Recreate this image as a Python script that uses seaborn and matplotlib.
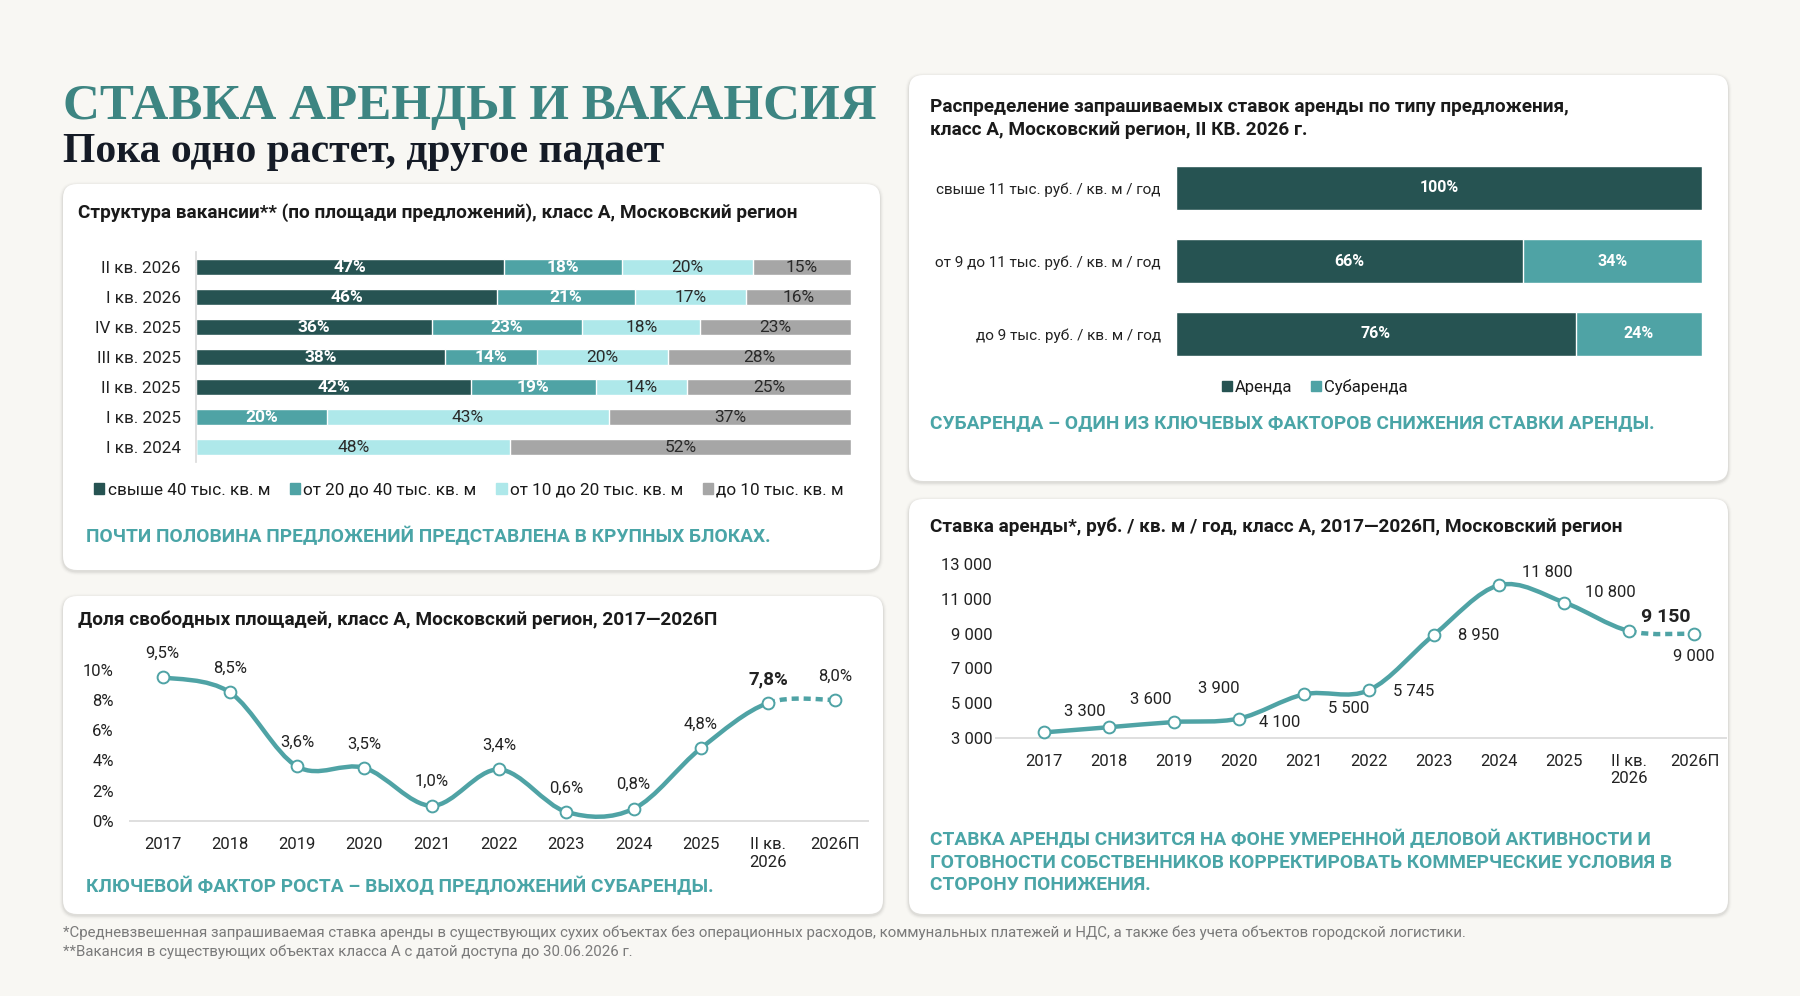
import numpy as np
import pandas as pd
import seaborn as sns
import matplotlib.pyplot as plt
from matplotlib.patches import FancyBboxPatch, Patch, PathPatch
from matplotlib.path import Path

# --- data ---
struct_periods = ["II кв. 2026", "I кв. 2026", "IV кв. 2025", "III кв. 2025",
                  "II кв. 2025", "I кв. 2025", "I кв. 2024"]
struct_big = [47, 46, 36, 38, 42, 0, 0]
struct_mid = [18, 21, 23, 14, 19, 20, 0]
struct_small = [20, 17, 18, 20, 14, 43, 48]
struct_tiny = [15, 16, 23, 28, 25, 37, 52]
struct_names = ["свыше 40 тыс. кв. м", "от 20 до 40 тыс. кв. м",
                "от 10 до 20 тыс. кв. м", "до 10 тыс. кв. м"]

years = ["2017", "2018", "2019", "2020", "2021", "2022", "2023", "2024",
         "2025", "II кв.\n2026", "2026П"]
vacancy = [9.5, 8.5, 3.6, 3.5, 1.0, 3.4, 0.6, 0.8, 4.8, 7.8, 8.0]
vacancy_labels = ["9,5%", "8,5%", "3,6%", "3,5%", "1,0%", "3,4%", "0,6%",
                  "0,8%", "4,8%", "7,8%", "8,0%"]
rent = [3300, 3600, 3900, 4100, 5500, 5745, 8950, 11800, 10800, 9150, 9000]
rent_labels = ["3 300", "3 600", "3 900", "4 100", "5 500", "5 745", "8 950",
               "11 800", "10 800", "9 150", "9 000"]

dist_types = ["свыше 11 тыс. руб. / кв. м / год",
              "от 9 до 11 тыс. руб. / кв. м / год",
              "до 9 тыс. руб. / кв. м / год"]
dist_lease = [100, 66, 76]
dist_sublease = [0, 34, 24]
dist_names = ["Аренда", "Субаренда"]

# --- style ---
DARK = "#265352"
MID = "#4fa3a5"
LIGHT = "#aee8ea"
GRAY = "#a6a6a6"
TEAL_TXT = "#4aa5a7"
BG = "#f8f7f3"
W, H = 1800, 996

sns.set_theme(style="white")
plt.rcParams["font.family"] = ["Roboto", "DejaVu Sans"]
plt.rcParams["text.color"] = "#1a1a1a"

fig = plt.figure(figsize=(W / 100, H / 100), dpi=100, facecolor=BG)
bg = fig.add_axes([0, 0, 1, 1], zorder=0)
bg.set_xlim(0, W)
bg.set_ylim(H, 0)
bg.axis("off")


def add_ax(x0, y0, x1, y1):
    ax = fig.add_axes([x0 / W, 1 - y1 / H, (x1 - x0) / W, (y1 - y0) / H], zorder=2)
    ax.set_facecolor("none")
    return ax


def card(x0, y0, x1, y1):
    for i, a in enumerate([0.045, 0.03, 0.018, 0.009]):
        d = i + 1
        bg.add_patch(FancyBboxPatch((x0 - d, y0 - d + 1.5), x1 - x0 + 2 * d, y1 - y0 + 2 * d,
                                    boxstyle=f"round,pad=0,rounding_size={14 + d}",
                                    fc="black", ec="none", alpha=a))
    bg.add_patch(FancyBboxPatch((x0, y0), x1 - x0, y1 - y0,
                                boxstyle="round,pad=0,rounding_size=14", fc="white", ec="none"))


def smooth_segments(xs, ys):
    pts = np.column_stack([xs, ys]).astype(float)
    ext = np.vstack([pts[0], pts, pts[-1]])
    segs = []
    for i in range(len(pts) - 1):
        p0, p1, p2, p3 = ext[i], ext[i + 1], ext[i + 2], ext[i + 3]
        segs.append((p1, p1 + (p2 - p0) / 6, p2 - (p3 - p1) / 6, p2))
    return segs


def segs_path(segs):
    verts = [segs[0][0]]
    codes = [Path.MOVETO]
    for p1, c1, c2, p2 in segs:
        verts += [c1, c2, p2]
        codes += [Path.CURVE4] * 3
    return Path(verts, codes)


def draw_line(ax, xs, ys):
    segs = smooth_segments(xs, ys)
    ax.add_patch(PathPatch(segs_path(segs[:-1]), fc="none", ec=MID, lw=3.2,
                           capstyle="round", zorder=3))
    ax.add_patch(PathPatch(segs_path(segs[-1:]), fc="none", ec=MID, lw=3.2,
                           linestyle=(0, (1.6, 1.1)), zorder=3))
    sns.scatterplot(x=xs, y=ys, ax=ax, s=72, color="white", edgecolor=MID,
                    linewidth=1.4, zorder=5, legend=False)


# --- header ---
bg.text(63, 119, "СТАВКА АРЕНДЫ И ВАКАНСИЯ", fontsize=36.8, weight="bold",
        family="Liberation Serif", color="#3d8582", va="baseline")
bg.text(63, 162, "Пока одно растет, другое падает", fontsize=30, weight="bold",
        family="Liberation Serif", color="#151b26", va="baseline")

card(63, 184, 880, 570)
card(63, 596, 883, 914)
card(909, 75, 1728, 481)
card(909, 499, 1728, 914)

TITLE_FS = 13.7
TAKE_FS = 13.75

# --- card A: vacancy structure ---
bg.text(78, 213, "Структура вакансии** (по площади предложений), класс А, Московский регион",
        fontsize=TITLE_FS, weight="bold", va="center")
axA = add_ax(196, 252, 851, 462)
layers = [struct_big, struct_mid, struct_small, struct_tiny]
colors = [DARK, MID, LIGHT, GRAY]
cum = np.cumsum(np.array(layers), axis=0)
for k in range(3, -1, -1):
    sns.barplot(x=cum[k], y=struct_periods, orient="h", color=colors[k], width=0.53,
                saturation=1, ax=axA)
for k in range(4):
    for i, v in enumerate(layers[k]):
        if v == 0:
            continue
        c = cum[k][i] - v / 2
        white = k < 2
        axA.text(c, i, f"{v}%", ha="center", va="center", fontsize=12.5,
                 color="white" if white else "#2a2a2a", weight="bold" if white else "normal")
axA.set_xlim(0, 100)
axA.set_xlabel("")
axA.set_ylabel("")
axA.set_xticks([])
for s in ["top", "right", "bottom"]:
    axA.spines[s].set_visible(False)
axA.spines["left"].set_color("#dcdcdc")
axA.tick_params(axis="y", length=0, pad=11, labelsize=12.3, labelcolor="#222222")
handlesA = [Patch(color=c, label=n) for c, n in zip(colors, struct_names)]
fig.legend(handles=handlesA, loc="center", bbox_to_anchor=(469 / W, 1 - 490 / H), ncol=4,
           frameon=False, fontsize=12.3, handlelength=0.6, handleheight=0.6,
           handletextpad=0.2, columnspacing=1.15)
bg.text(86, 536, "ПОЧТИ ПОЛОВИНА ПРЕДЛОЖЕНИЙ ПРЕДСТАВЛЕНА В КРУПНЫХ БЛОКАХ.",
        fontsize=TAKE_FS, weight="bold", color=TEAL_TXT, va="center")

# --- card B: vacancy rate ---
bg.text(78, 620, "Доля свободных площадей, класс А, Московский регион, 2017—2026П",
        fontsize=TITLE_FS, weight="bold", va="center")
axB = add_ax(129, 647, 869, 833)
xpos = np.arange(len(years))
axB.axhline(0, color="#d9d9d9", lw=1.2, zorder=1)
draw_line(axB, xpos, vacancy)
for i, (v, lab) in enumerate(zip(vacancy, vacancy_labels)):
    bold = i == len(years) - 2
    axB.annotate(lab, (i, v), xytext=(0, 24), textcoords="offset pixels", ha="center",
                 va="center", fontsize=13.5 if bold else 12, weight="bold" if bold else "normal",
                 color="#222222")
axB.set_xlim(-0.5, 10.5)
axB.set_ylim(-0.8, 11.5)
axB.set_xticks(xpos)
axB.set_xticklabels(years)
axB.set_yticks([0, 2, 4, 6, 8, 10])
axB.set_yticklabels([f"{t}%" for t in [0, 2, 4, 6, 8, 10]])
axB.tick_params(axis="both", length=0, labelsize=12, labelcolor="#222222")
axB.tick_params(axis="y", pad=11)
axB.tick_params(axis="x", pad=3)
for s in axB.spines.values():
    s.set_visible(False)
bg.text(86, 886, "КЛЮЧЕВОЙ ФАКТОР РОСТА – ВЫХОД ПРЕДЛОЖЕНИЙ СУБАРЕНДЫ.",
        fontsize=TAKE_FS, weight="bold", color=TEAL_TXT, va="center")

# --- card C: distribution by offer type ---
bg.text(930, 118.5, "Распределение запрашиваемых ставок аренды по типу предложения,\n"
        "класс А, Московский регион, II КВ. 2026 г.",
        fontsize=TITLE_FS, weight="bold", va="center", linespacing=1.3)
axC = add_ax(1176, 151.5, 1702, 370.5)
dist_total = np.array(dist_lease) + np.array(dist_sublease)
sns.barplot(x=dist_total, y=dist_types, orient="h", color=MID, width=0.6, saturation=1, ax=axC)
sns.barplot(x=dist_lease, y=dist_types, orient="h", color=DARK, width=0.6, saturation=1, ax=axC)
for i in range(len(dist_types)):
    axC.text(dist_lease[i] / 2, i, f"{dist_lease[i]}%", ha="center", va="center",
             fontsize=11.5, weight="bold", color="white")
    if dist_sublease[i] > 0:
        axC.text(dist_lease[i] + dist_sublease[i] / 2, i, f"{dist_sublease[i]}%", ha="center",
                 va="center", fontsize=11.5, weight="bold", color="white")
axC.set_xlim(0, 100)
axC.set_xlabel("")
axC.set_ylabel("")
axC.set_xticks([])
for s in axC.spines.values():
    s.set_visible(False)
axC.tick_params(axis="y", length=0, pad=11, labelsize=11, labelcolor="#222222")
handlesC = [Patch(color=c, label=n) for c, n in zip([DARK, MID], dist_names)]
fig.legend(handles=handlesC, loc="center", bbox_to_anchor=(1315 / W, 1 - 387 / H), ncol=2,
           frameon=False, fontsize=12, handlelength=0.6, handleheight=0.6,
           handletextpad=0.2, columnspacing=1.1)
bg.text(930, 423, "СУБАРЕНДА – ОДИН ИЗ КЛЮЧЕВЫХ ФАКТОРОВ СНИЖЕНИЯ СТАВКИ АРЕНДЫ.",
        fontsize=TAKE_FS, weight="bold", color=TEAL_TXT, va="center")

# --- card D: rent rate ---
bg.text(930, 527, "Ставка аренды*, руб. / кв. м / год, класс А, 2017—2026П, Московский регион",
        fontsize=TITLE_FS, weight="bold", va="center")
axD = add_ax(995, 554, 1727, 748)
axD.axhline(3000, color="#d9d9d9", lw=1.2, zorder=1)
draw_line(axD, xpos, rent)
rent_offsets = [(41, 21), (42, 28), (45, 34), (41, -4), (45, -14), (44, -1), (44, -1),
                (48, 13), (46, 10), (36, 14), (-1, -23)]
for i, (v, lab) in enumerate(zip(rent, rent_labels)):
    bold = i == len(years) - 2
    axD.annotate(lab, (i, v), xytext=rent_offsets[i], textcoords="offset pixels", ha="center",
                 va="center", fontsize=14 if bold else 12, weight="bold" if bold else "normal",
                 color="#222222")
axD.set_xlim(-0.75, 10.5)
axD.set_ylim(2400, 13600)
axD.set_xticks(xpos)
axD.set_xticklabels(years)
yt = [3000, 5000, 7000, 9000, 11000, 13000]
axD.set_yticks(yt)
axD.set_yticklabels([f"{t:,}".replace(",", " ") for t in yt])
axD.tick_params(axis="both", length=0, labelsize=12, labelcolor="#222222")
axD.tick_params(axis="y", pad=2)
axD.tick_params(axis="x", pad=4)
for s in axD.spines.values():
    s.set_visible(False)
bg.text(930, 862, "СТАВКА АРЕНДЫ СНИЗИТСЯ НА ФОНЕ УМЕРЕННОЙ ДЕЛОВОЙ АКТИВНОСТИ И\n"
        "ГОТОВНОСТИ СОБСТВЕННИКОВ КОРРЕКТИРОВАТЬ КОММЕРЧЕСКИЕ УСЛОВИЯ В\n"
        "СТОРОНУ ПОНИЖЕНИЯ.", fontsize=TAKE_FS, weight="bold", color=TEAL_TXT, va="center",
        linespacing=1.33)

# --- footnotes ---
bg.text(63, 933, "*Средневзвешенная запрашиваемая ставка аренды в существующих сухих объектах без "
        "операционных расходов, коммунальных платежей и НДС, а также без учета объектов "
        "городской логистики.", fontsize=10.8, color="#7a7a7a", va="center")
bg.text(63, 952, "**Вакансия в существующих объектах класса А с датой доступа до 30.06.2026 г.",
        fontsize=10.8, color="#7a7a7a", va="center")

fig.savefig("out.png", dpi=100, facecolor=BG)
